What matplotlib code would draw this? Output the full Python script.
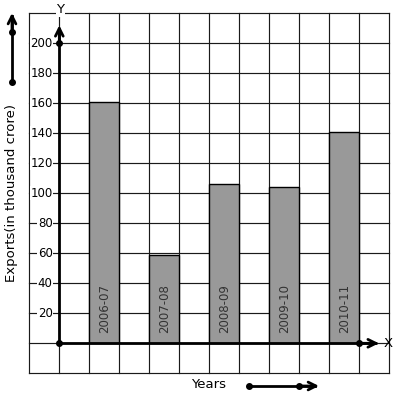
import matplotlib
matplotlib.use("Agg")
import matplotlib.pyplot as plt

years = ["2006-07", "2007-08", "2008-09", "2009-10", "2010-11"]
exports = [161, 59, 106, 104, 141]
y_ticks = [20, 40, 60, 80, 100, 120, 140, 160, 180, 200]

W, H = 397, 399
fig = plt.figure(figsize=(W / 100, H / 100), dpi=100)
fig.patch.set_facecolor("white")

# grid in pixels: left 29.3, right 389.3, top 13.3, bottom 373.3
L, R, T, B = 29.3, 389.3, 13.3, 373.3
ax = fig.add_axes([L / W, (H - B) / H, (R - L) / W, (B - T) / H])
ax.set_xlim(-1, 11)
ax.set_ylim(-20, 220)
ax.axis("off")

grid_kw = dict(color="#1a1a1a", lw=0.85, zorder=1, clip_on=False)
for gx in range(-1, 12):
    ax.plot([gx, gx], [-20, 220], **grid_kw)
for gy in range(-20, 221, 20):
    ax.plot([-1, 11], [gy, gy], **grid_kw)

xs = [1 + 2 * i for i in range(len(years))]
ax.bar(xs, exports, width=1, align="edge", color="#999999",
       edgecolor="black", linewidth=1.0, zorder=2)
for x, lab in zip(xs, years):
    ax.text(x + 0.5, 7, lab, rotation=90, ha="center", va="bottom",
            fontsize=8.5, color="#333333", zorder=3)

# axes lines
ax.plot([0, 0], [0, 209], color="black", lw=2, zorder=4, solid_capstyle="butt")
ax.plot([0, 10.6], [0, 0], color="black", lw=2, zorder=4, solid_capstyle="butt")
ax.annotate("", xy=(0, 212), xytext=(0, 200),
            arrowprops=dict(arrowstyle="->", lw=2, mutation_scale=14, color="black",
                            shrinkA=0, shrinkB=0), zorder=5)
ax.annotate("", xy=(10.65, 0), xytext=(10.0, 0),
            arrowprops=dict(arrowstyle="->", lw=2, mutation_scale=14, color="black",
                            shrinkA=0, shrinkB=0), zorder=5)
ax.plot([0, 0, 10], [0, 200, 0], "o", color="black", ms=4, zorder=6, clip_on=False)
ax.text(10.95, 0, "X", ha="center", va="center", fontsize=9.5, zorder=6)
ax.text(0.03, 222.5, "Y", ha="center", va="center", fontsize=9.5, zorder=6,
        bbox=dict(facecolor="white", edgecolor="none", pad=0.5))

for v in y_ticks:
    ax.text(-0.22, v, str(v), ha="right", va="center", fontsize=8.5, zorder=5,
            bbox=dict(facecolor="white", edgecolor="none", pad=0.3))

# overlay in pixel coords for decorations
ov = fig.add_axes([0, 0, 1, 1])
ov.set_xlim(0, W)
ov.set_ylim(H, 0)
ov.axis("off")
ov.patch.set_alpha(0)

fig.text(12 / W, 1 - 193 / H, "Exports(in thousand crore)", rotation=90,
         ha="center", va="center", fontsize=9.5)
fig.text(209 / W, 1 - 385 / H, "Years", ha="center", va="center", fontsize=9.5)

# left vertical arrow decoration
ov.plot([12, 12], [82, 16], color="black", lw=2)
ov.annotate("", xy=(12, 13), xytext=(12, 30),
            arrowprops=dict(arrowstyle="->", lw=2, mutation_scale=14, color="black",
                            shrinkA=0, shrinkB=0))
ov.plot([12, 12], [32, 82], "o", color="black", ms=4)

# bottom horizontal arrow decoration
ov.plot([249, 315], [386, 386], color="black", lw=2)
ov.annotate("", xy=(319, 386), xytext=(300, 386),
            arrowprops=dict(arrowstyle="->", lw=2, mutation_scale=14, color="black",
                            shrinkA=0, shrinkB=0))
ov.plot([249, 299], [386, 386], "o", color="black", ms=4)

fig.savefig("out.png", dpi=100, facecolor="white")
